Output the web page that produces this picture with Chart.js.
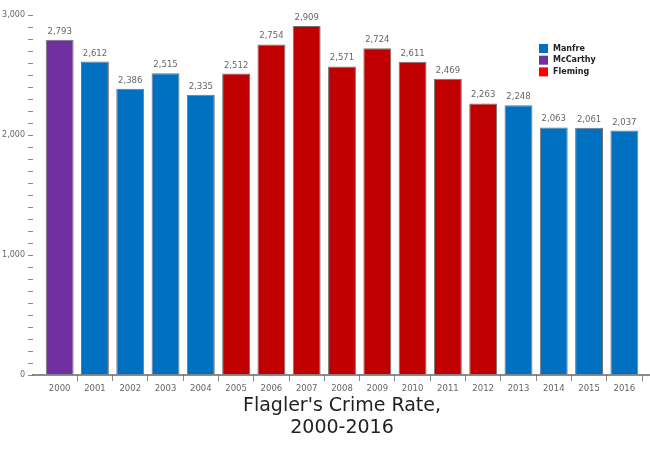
<!DOCTYPE html>
<html>
<head>
<meta charset="utf-8">
<script src="https://cdn.jsdelivr.net/npm/chart.js@4"></script>
<style>
  html, body { margin: 0; padding: 0; background: #fff; }
  #wrap { width: 650px; height: 452px; }
</style>
</head>
<body>
<div id="wrap"><canvas id="crimeChart"></canvas></div>
<script>
// Crime rate by year, coloured by sheriff in office
const years = ['2000', '2001', '2002', '2003', '2004', '2005', '2006', '2007', '2008',
               '2009', '2010', '2011', '2012', '2013', '2014', '2015', '2016'];
const crimeRate = [2793, 2612, 2386, 2515, 2335, 2512, 2754, 2909, 2571,
                   2724, 2611, 2469, 2263, 2248, 2063, 2061, 2037];
const sheriff = ['McCarthy', 'Manfre', 'Manfre', 'Manfre', 'Manfre', 'Fleming', 'Fleming', 'Fleming', 'Fleming',
                 'Fleming', 'Fleming', 'Fleming', 'Fleming', 'Manfre', 'Manfre', 'Manfre', 'Manfre'];
const legendNames = ['Manfre', 'McCarthy', 'Fleming'];

const barColors = { Manfre: '#0070C0', McCarthy: '#7030A0', Fleming: '#C00000' };
const legendColors = { Manfre: '#0070C0', McCarthy: '#7030A0', Fleming: '#FF0000' };

const FONT = '"DejaVu Sans", Verdana, sans-serif';

// value labels above each bar
const valueLabels = {
    id: 'valueLabels',
    afterDatasetsDraw(chart) {
        const ctx = chart.ctx;
        const meta = chart.getDatasetMeta(0);
        ctx.save();
        ctx.font = '8.5px ' + FONT;
        ctx.fillStyle = '#666';
        ctx.textAlign = 'center';
        ctx.textBaseline = 'bottom';
        meta.data.forEach((bar, i) => {
            ctx.fillText(crimeRate[i].toLocaleString('en-US'), bar.x, bar.y - 4);
        });
        ctx.restore();
    }
};

// baseline runs a little past the bars on both sides
const baseLine = {
    id: 'baseLine',
    afterDatasetsDraw(chart) {
        const ctx = chart.ctx;
        const y = chart.chartArea.bottom;
        ctx.save();
        ctx.strokeStyle = '#666';
        ctx.lineWidth = 1.5;
        ctx.beginPath();
        ctx.moveTo(32, y);
        ctx.lineTo(chart.width, y);
        ctx.stroke();
        ctx.restore();
    }
};

// small legend in the top right corner of the plot
const cornerLegend = {
    id: 'cornerLegend',
    afterDraw(chart) {
        const ctx = chart.ctx;
        ctx.save();
        ctx.font = 'bold 8px ' + FONT;
        ctx.textBaseline = 'middle';
        ctx.textAlign = 'left';
        legendNames.forEach((name, i) => {
            const y = 48.5 + i * 11.7;
            ctx.fillStyle = legendColors[name];
            ctx.fillRect(539, y - 4.5, 9, 9);
            ctx.fillStyle = '#222';
            ctx.fillText(name, 553, y);
        });
        ctx.restore();
    }
};

new Chart(document.getElementById('crimeChart'), {
    type: 'bar',
    data: {
        labels: years,
        datasets: [{
            data: crimeRate,
            backgroundColor: sheriff.map(s => barColors[s]),
            borderColor: 'rgba(0,0,0,0.55)',
            borderWidth: 1,
            categoryPercentage: 0.79,
            barPercentage: 1.0
        }]
    },
    options: {
        responsive: true,
        maintainAspectRatio: false,
        animation: false,
        layout: { padding: { top: 15, right: 8, left: 0, bottom: 13 } },
        plugins: {
            legend: { display: false },
            tooltip: { enabled: false },
            title: {
                display: true,
                position: 'bottom',
                fullSize: false,
                text: ["Flagler's Crime Rate,", '2000-2016'],
                color: '#222',
                font: { family: FONT, size: 19, weight: 'normal', lineHeight: 1.15 },
                padding: { top: -2, bottom: 0 }
            }
        },
        scales: {
            x: {
                border: { display: false },
                grid: {
                    display: true,
                    drawOnChartArea: false,
                    offset: true,
                    tickLength: 6,
                    color: c => (c.index === 0 || c.index === years.length ? 'rgba(0,0,0,0)' : '#888')
                },
                ticks: { color: '#666', font: { family: FONT, size: 8.5 }, padding: 3, maxRotation: 0 }
            },
            y: {
                min: 0,
                max: 3000,
                border: { display: false },
                grid: {
                    display: true,
                    drawOnChartArea: false,
                    tickLength: 14,
                    tickBorderDash: [5, 50],
                    color: '#888'
                },
                afterFit: scale => { scale.width = 42; },
                ticks: {
                    stepSize: 100,
                    autoSkip: false,
                    color: '#666',
                    padding: 3,
                    font: { family: FONT, size: 8 },
                    callback: v => (v % 1000 === 0 ? v.toLocaleString('en-US') : '')
                }
            }
        }
    },
    plugins: [valueLabels, baseLine, cornerLegend]
});
</script>
</body>
</html>
